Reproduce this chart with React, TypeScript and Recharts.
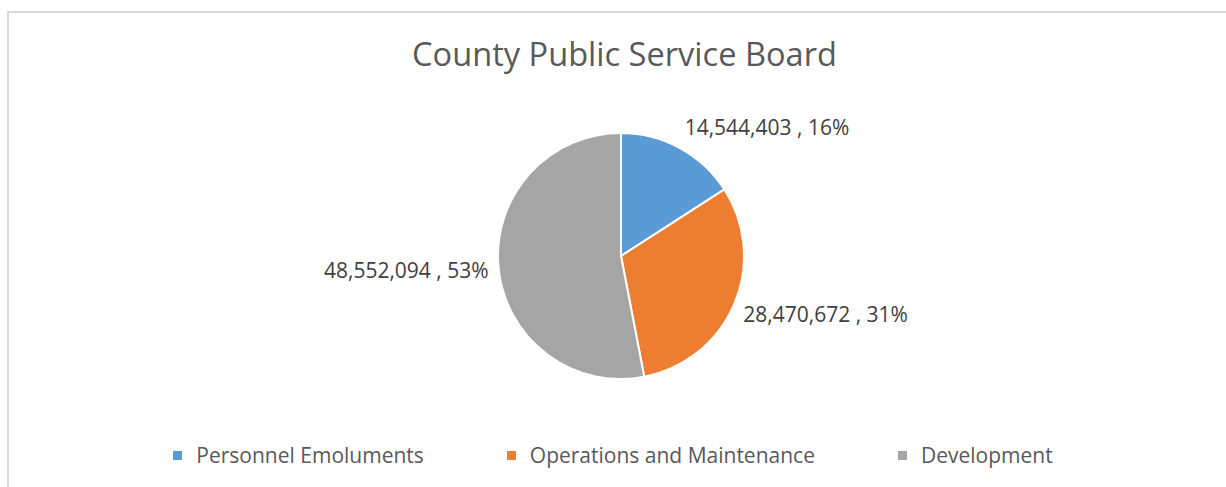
import { Cell, Legend, Pie, PieChart } from 'recharts';

const categories = ['Personnel Emoluments', 'Operations and Maintenance', 'Development'];
const amounts = [14544403, 28470672, 48552094];
const colors = ['#5B9BD5', '#ED7D31', '#A5A5A5'];

const data = categories.map((name, i) => ({ name, value: amounts[i] }));

const FONT = '"Open Sans", sans-serif';
const RADIAN = Math.PI / 180;

function renderLabel(props: any) {
  const { cx, cy, midAngle, outerRadius, value, percent } = props;
  const r = outerRadius + 10;
  const cos = Math.cos(-midAngle * RADIAN);
  const sin = Math.sin(-midAngle * RADIAN);
  const x = cx + r * cos;
  const y = cy + r * sin + sin * 14;
  return (
    <text
      x={x}
      y={y}
      textAnchor={cos >= 0 ? 'start' : 'end'}
      dominantBaseline="central"
      fill="#404040"
      fontSize={21}
      fontFamily={FONT}
    >
      {`${Number(value).toLocaleString('en-US')} , ${Math.round(percent * 100)}%`}
    </text>
  );
}

function LegendContent() {
  return (
    <div style={{ display: 'flex', justifyContent: 'center', gap: 83, fontFamily: FONT }}>
      {categories.map((c, i) => (
        <div key={c} style={{ display: 'flex', alignItems: 'center' }}>
          <span style={{ width: 9, height: 9, background: colors[i], display: 'inline-block', marginRight: 14 }} />
          <span style={{ fontSize: 21, color: '#595959' }}>{c}</span>
        </div>
      ))}
    </div>
  );
}

export default function App() {
  return (
    <div style={{ position: 'fixed', left: 0, top: 0, width: 1226, height: 487, background: '#fff', overflow: 'hidden' }}>
      <div
        style={{
          position: 'absolute',
          left: 7,
          top: 11,
          width: 1240,
          height: 500,
          border: '2px solid #d9d9d9',
          boxSizing: 'border-box',
        }}
      />
      <div
        style={{
          position: 'absolute',
          left: 0,
          width: 1249,
          top: 33,
          textAlign: 'center',
          fontFamily: FONT,
          fontSize: 32.6,
          color: '#595959',
          lineHeight: '42px',
        }}
      >
        County Public Service Board
      </div>
      <div style={{ position: 'absolute', left: 0, top: 0 }}>
        <PieChart width={1226} height={487} margin={{ top: 0, right: 0, bottom: 0, left: 0 }}>
          <Pie
            data={data}
            dataKey="value"
            nameKey="name"
            cx={621}
            cy={256}
            outerRadius={123}
            startAngle={90}
            endAngle={-270}
            stroke="#ffffff"
            strokeWidth={2}
            label={renderLabel}
            labelLine={false}
            isAnimationActive={false}
          >
            {data.map((d, i) => (
              <Cell key={d.name} fill={colors[i]} />
            ))}
          </Pie>
          <Legend content={<LegendContent />} wrapperStyle={{ top: 441, left: 0, width: 1226 }} />
        </PieChart>
      </div>
    </div>
  );
}
